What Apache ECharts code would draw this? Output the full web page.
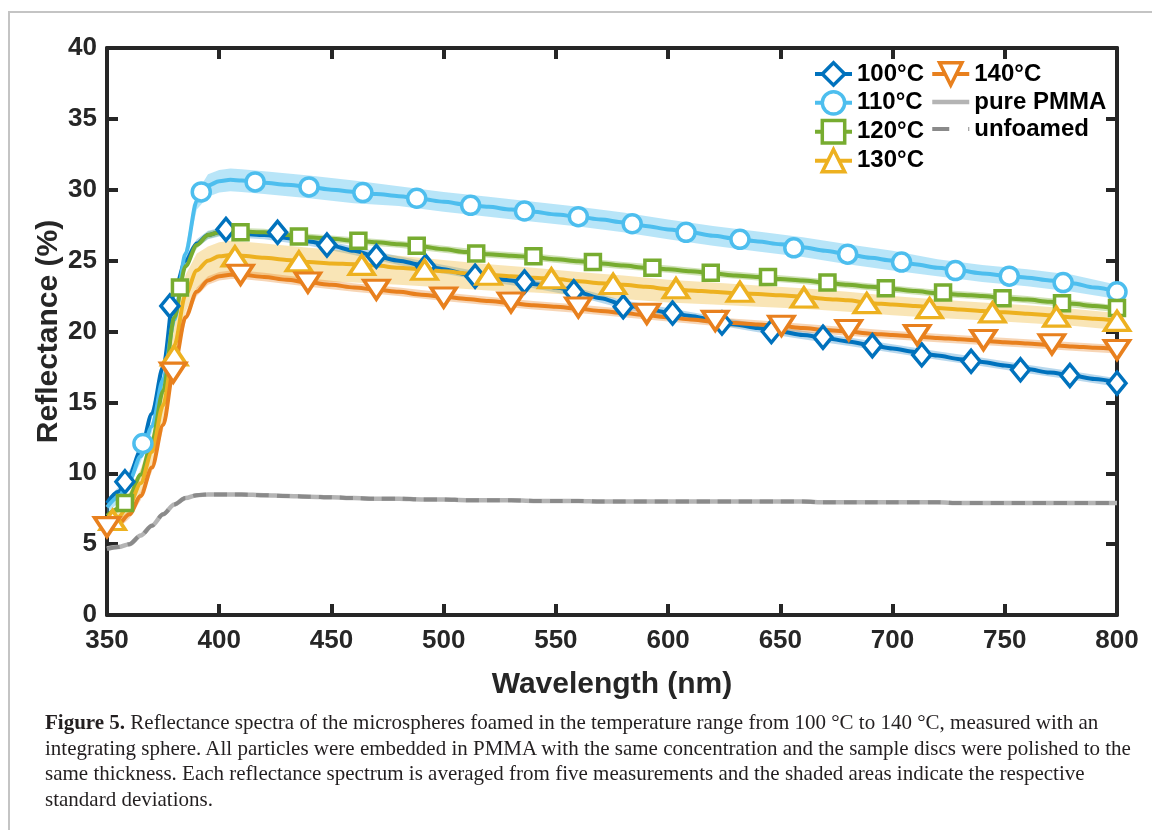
<!DOCTYPE html>
<html>
<head>
<meta charset="utf-8">
<script src="https://cdn.jsdelivr.net/npm/echarts@6/dist/echarts.min.js"></script>
<style>
html,body{margin:0;padding:0;background:#fff;}
#wrap{position:relative;width:1152px;height:830px;overflow:hidden;background:#fff;}
#chart{position:absolute;left:0;top:0;width:1152px;height:830px;}
#frame{position:absolute;left:8px;top:11px;width:1200px;height:900px;border-left:2px solid #c4c4c4;border-top:2px solid #c4c4c4;pointer-events:none;}
#caption{position:absolute;left:45px;top:710px;font-family:'Liberation Serif','Times New Roman',serif;font-size:21px;line-height:25.7px;color:#231f20;white-space:nowrap;}
#caption b{font-weight:bold;}
</style>
</head>
<body>
<div id="wrap">
<div id="chart"></div>
<div id="frame"></div>
<div id="caption">
<div><b>Figure 5.</b> Reflectance spectra of the microspheres foamed in the temperature range from 100 °C to 140 °C, measured with an</div>
<div>integrating sphere. All particles were embedded in PMMA with the same concentration and the sample discs were polished to the</div>
<div>same thickness. Each reflectance spectrum is averaged from five measurements and the shaded areas indicate the respective</div>
<div>standard deviations.</div>
</div>
</div>
<script>
// ---------- DATA ----------
const seriesNames = ['100°C', '110°C', '120°C', '130°C', '140°C', 'pure PMMA', 'unfoamed'];
const xTicks = [350, 400, 450, 500, 550, 600, 650, 700, 750, 800];
const yTicks = [0, 5, 10, 15, 20, 25, 30, 35, 40];

// wavelength grid of the curves (nm)
const wl = [350,355,360,365,370,375,380,385,390,395,400,405,410,420,430,440,450,460,470,480,490,500,510,520,530,540,550,560,570,580,590,600,610,620,630,640,650,660,670,680,690,700,710,720,730,740,750,760,770,780,790,800];

const r100 = [7.9,8.7,9.9,11.6,14.2,17.5,22.8,25.0,26.2,26.8,27.0,27.0,26.9,26.8,26.6,26.35,26.05,25.7,25.3,25.0,24.7,24.4,24.05,23.8,23.6,23.35,23.1,22.75,22.35,21.9,21.6,21.35,21.1,20.8,20.5,20.25,20.0,19.75,19.55,19.3,19.05,18.8,18.55,18.3,18.05,17.85,17.6,17.35,17.1,16.9,16.65,16.4];
const r110 = [7.6,8.3,9.5,11.2,13.3,16.6,20.8,25.5,29.2,30.3,30.6,30.7,30.65,30.5,30.35,30.2,30.0,29.85,29.7,29.55,29.35,29.15,28.95,28.8,28.6,28.45,28.25,28.1,27.9,27.7,27.45,27.2,27.0,26.75,26.55,26.35,26.15,25.95,25.7,25.45,25.2,25.0,24.75,24.5,24.3,24.1,23.95,23.8,23.6,23.4,23.1,22.8];
const r120 = [7.0,7.5,8.4,9.9,12.2,15.8,21.0,24.6,26.1,26.8,27.0,27.1,27.05,27.0,26.8,26.65,26.55,26.4,26.3,26.15,26.0,25.8,25.6,25.45,25.35,25.25,25.1,24.95,24.8,24.65,24.5,24.4,24.25,24.1,23.95,23.85,23.7,23.6,23.45,23.3,23.15,23.0,22.85,22.7,22.6,22.5,22.35,22.25,22.1,21.95,21.8,21.6];
const r130 = [6.4,6.9,7.8,9.3,11.5,14.8,19.0,22.6,24.3,25.0,25.3,25.4,25.35,25.2,25.05,24.9,24.8,24.75,24.65,24.5,24.4,24.25,24.1,24.0,23.9,23.8,23.7,23.55,23.4,23.3,23.15,23.0,22.9,22.8,22.7,22.65,22.55,22.45,22.3,22.2,22.0,21.9,21.8,21.65,21.55,21.45,21.35,21.25,21.15,21.0,20.9,20.75];
const r140 = [6.0,6.4,7.1,8.4,10.4,13.4,17.6,21.0,22.8,23.6,23.9,24.0,24.0,23.85,23.65,23.45,23.3,23.1,22.95,22.8,22.6,22.45,22.3,22.15,22.0,21.85,21.75,21.6,21.45,21.3,21.15,21.0,20.85,20.7,20.6,20.5,20.4,20.25,20.1,20.0,19.85,19.75,19.65,19.55,19.45,19.35,19.25,19.15,19.05,18.95,18.85,18.75];
const rPMMA = [4.7,4.8,5.0,5.6,6.3,7.1,7.8,8.25,8.45,8.5,8.5,8.5,8.5,8.45,8.4,8.35,8.3,8.25,8.2,8.2,8.15,8.15,8.1,8.1,8.1,8.05,8.05,8.05,8.0,8.0,8.0,8.0,8.0,8.0,8.0,8.0,8.0,8.0,7.95,7.95,7.95,7.95,7.95,7.95,7.9,7.9,7.9,7.9,7.9,7.9,7.9,7.9];
const rUnfoamed = [4.65,4.8,5.0,5.6,6.3,7.1,7.8,8.25,8.45,8.5,8.5,8.5,8.5,8.45,8.4,8.35,8.3,8.25,8.2,8.2,8.15,8.15,8.1,8.1,8.1,8.05,8.05,8.05,8.0,8.0,8.0,8.0,8.0,8.0,8.0,8.0,8.0,8.0,7.95,7.95,7.95,7.95,7.95,7.95,7.9,7.9,7.9,7.9,7.9,7.9,7.9,7.9];

// standard-deviation bands (lower / upper edges)
const bandX = [350,355,360,365,370,375,380,385,390,395,400,405,410,420,440,460,480,500,520,540,560,580,600,620,640,660,680,700,720,740,760,780,800];
const b100lo = [7.6,8.4,9.6,11.3,13.9,17.2,22.5,24.7,25.9,26.5,26.7,26.7,26.6,26.5,26.05,25.4,24.7,24.1,23.5,23.05,22.45,21.6,21.05,20.5,19.95,19.45,19.0,18.5,18.0,17.55,17.05,16.6,16.1];
const b100hi = [8.2,9.0,10.2,11.9,14.5,17.8,23.1,25.3,26.5,27.1,27.3,27.3,27.2,27.1,26.65,26.0,25.3,24.7,24.1,23.65,23.05,22.2,21.65,21.1,20.55,20.05,19.6,19.1,18.6,18.15,17.65,17.2,16.7];
const b110lo = [7.2,7.9,9.1,10.8,12.9,16.2,20.4,25.1,28.6,29.5,29.8,29.9,29.85,29.7,29.4,29.05,28.85,28.45,28.1,27.75,27.4,27.0,26.5,26.05,25.65,25.25,24.75,24.3,23.9,23.5,23.2,22.8,22.3];
const b110hi = [8.0,8.7,9.9,11.6,13.7,17.0,21.2,25.9,29.8,31.1,31.4,31.5,31.45,31.3,31.0,30.65,30.25,29.85,29.5,29.15,28.8,28.4,27.9,27.45,27.05,26.65,26.15,25.7,25.1,24.7,24.4,24.0,23.3];
const b120lo = [6.75,7.25,8.15,9.65,11.95,15.55,20.75,24.35,25.85,26.55,26.75,26.85,26.8,26.75,26.4,26.15,25.9,25.55,25.2,25.0,24.7,24.4,24.15,23.85,23.6,23.35,23.05,22.75,22.45,22.25,22.0,21.7,21.35];
const b120hi = [7.25,7.75,8.65,10.15,12.45,16.05,21.25,24.85,26.35,27.05,27.25,27.35,27.3,27.25,26.9,26.65,26.4,26.05,25.7,25.5,25.2,24.9,24.65,24.35,24.1,23.85,23.55,23.25,22.95,22.75,22.5,22.2,21.85];
const b130lo = [6.0,6.4,7.2,8.6,10.7,13.8,17.8,21.4,23.0,23.7,23.9,24.0,23.95,23.8,23.55,23.45,23.3,23.1,22.9,22.75,22.55,22.3,22.05,21.9,21.75,21.6,21.4,21.15,20.95,20.8,20.6,20.4,20.1];
const b130hi = [6.9,7.5,8.6,10.3,12.7,16.2,20.5,24.0,25.5,26.0,26.3,26.4,26.35,26.2,25.9,25.65,25.35,25.05,24.75,24.5,24.2,23.95,23.65,23.45,23.25,23.05,22.8,22.5,22.25,22.05,21.85,21.6,21.3];
const b140lo = [5.7,6.1,6.8,8.1,10.1,13.1,17.3,20.7,22.5,23.3,23.6,23.7,23.7,23.55,23.15,22.8,22.5,22.15,21.85,21.55,21.3,21.0,20.7,20.4,20.2,19.95,19.7,19.45,19.25,19.05,18.85,18.65,18.45];
const b140hi = [6.3,6.7,7.4,8.7,10.7,13.7,17.9,21.3,23.1,23.9,24.2,24.3,24.3,24.15,23.75,23.4,23.1,22.75,22.45,22.15,21.9,21.6,21.3,21.0,20.8,20.55,20.3,20.05,19.85,19.65,19.45,19.25,19.05];

// marker positions
const m100x = [358,378,403,426,448,470,492,514,536,558,580,602,624,646,669,691,713,735,757,779,800];
const m100y = [9.4,21.8,27.2,27.0,26.1,25.3,24.6,23.9,23.5,22.8,21.75,21.3,20.6,20.0,19.6,19.0,18.35,17.9,17.3,16.9,16.35];
const m110x = [366,392,416,440,464,488,512,536,560,584,608,632,656,680,704,728,752,776,800];
const m110y = [12.1,29.85,30.55,30.2,29.8,29.4,28.9,28.5,28.1,27.6,27.0,26.5,25.9,25.45,24.9,24.3,23.9,23.45,22.8];
const m120x = [358,382.5,409.5,435.5,462,488,514.5,540,566.5,593,619,644.5,671,697,722.5,749,775.5,800];
const m120y = [7.9,23.1,27.0,26.7,26.4,26.05,25.5,25.3,24.9,24.5,24.15,23.85,23.45,23.05,22.75,22.35,22.0,21.65];
const m130x = [352.5,380,407,435.5,463.5,491.5,520,548,575.5,603.5,632,660.5,688.5,716.5,744.5,773,800];
const m130y = [6.7,18.3,25.3,24.95,24.7,24.35,24.0,23.75,23.35,23.05,22.8,22.4,22.0,21.65,21.35,21.05,20.75];
const m140x = [350,379.5,409.5,439.5,470,500,530,560,590.5,621,650.5,680.5,711,740.5,771,800];
const m140y = [6.2,17.1,24.0,23.45,22.95,22.4,22.05,21.7,21.25,20.75,20.4,20.1,19.75,19.4,19.1,18.7];

// ---------- STYLE ----------
const colors = ['#0072BD', '#4DBEEE', '#77AC30', '#EDB120', '#E8801E', '#B4B4B4', '#8A8A8A'];
const bandColors = ['rgba(0,114,189,0.28)', 'rgba(77,190,238,0.40)', 'rgba(119,172,48,0.35)', 'rgba(237,177,32,0.33)', 'rgba(232,128,30,0.33)'];
const symbols = ['diamond', 'circle', 'rect', 'triangle', 'triangle'];
const symbolSizes = [[18, 22], 18, 15, [25, 19], [25, 19]];
const symbolRotates = [0, 0, 0, 0, 180];
const FONT = "'Liberation Sans', Arial, Helvetica, sans-serif";

const curves = [r100, r110, r120, r130, r140];
const bands = [[b100lo, b100hi], [b110lo, b110hi], [b120lo, b120hi], [b130lo, b130hi], [b140lo, b140hi]];
const markers = [[m100x, m100y], [m110x, m110y], [m120x, m120y], [m130x, m130y], [m140x, m140y]];

function pairs(xs, ys) { return xs.map((x, i) => [x, ys[i]]); }

const series = [];
// bands first
bands.forEach((b, k) => {
  series.push({
    type: 'custom',
    silent: true,
    clip: true,
    data: [[bandX[0], b[0][0]]],
    encode: { x: 0, y: 1 },
    renderItem: function (params, api) {
      const pts = [];
      for (let i = 0; i < bandX.length; i++) pts.push(api.coord([bandX[i], b[1][i]]));
      for (let i = bandX.length - 1; i >= 0; i--) pts.push(api.coord([bandX[i], b[0][i]]));
      return { type: 'polygon', shape: { points: pts }, style: { fill: bandColors[k], stroke: null } };
    },
    z: 1
  });
});
// gray reference curves
series.push({
  name: 'pure PMMA', type: 'line', data: pairs(wl, rPMMA), symbol: 'none', smooth: 0.3, smoothMonotone: 'x',
  lineStyle: { color: colors[5], width: 4.5 }, itemStyle: { color: colors[5] }, silent: true, z: 2
});
series.push({
  name: 'unfoamed', type: 'line', data: pairs(wl, rUnfoamed), symbol: 'none', smooth: 0.3, smoothMonotone: 'x',
  lineStyle: { color: colors[6], width: 4, type: [13, 8] }, itemStyle: { color: colors[6] }, silent: true, z: 2
});
// foamed samples
curves.forEach((c, k) => {
  series.push({
    name: seriesNames[k], type: 'line', data: pairs(wl, c), smooth: 0.3, smoothMonotone: 'x',
    symbol: symbols[k], symbolRotate: symbolRotates[k], showSymbol: false,
    lineStyle: { color: colors[k], width: 4 },
    itemStyle: { color: '#fff', borderColor: colors[k], borderWidth: 3.5 },
    silent: true, z: 3
  });
  series.push({
    name: seriesNames[k], type: 'scatter', data: pairs(markers[k][0], markers[k][1]),
    symbol: symbols[k], symbolSize: symbolSizes[k], symbolRotate: symbolRotates[k],
    itemStyle: { color: '#fff', borderColor: colors[k], borderWidth: 3.5, opacity: 1 },
    silent: true, z: 3, clip: false
  });
});

function legendItem(k) {
  return {
    name: seriesNames[k],
    itemStyle: { color: '#fff', borderColor: colors[k], borderWidth: 3.5 },
    lineStyle: { color: colors[k], width: 4 }
  };
}
const legendText = { fontFamily: FONT, fontWeight: 'bold', fontSize: 24, color: '#000' };

const axisLineStyle = { color: '#262626', width: 4 };
const option = {
  animation: false,
  backgroundColor: '#fff',
  grid: { left: 107, right: 35, top: 48, bottom: 215, containLabel: false },
  xAxis: [{
    type: 'value', min: xTicks[0], max: xTicks[xTicks.length - 1], interval: 50,
    position: 'bottom',
    axisLine: { show: true, onZero: false, lineStyle: axisLineStyle },
    axisTick: { show: true, inside: true, length: 11, lineStyle: axisLineStyle },
    axisLabel: { show: true, margin: 13, fontFamily: FONT, fontWeight: 'bold', fontSize: 26, color: '#262626' },
    splitLine: { show: false },
    name: 'Wavelength (nm)', nameLocation: 'middle', nameGap: 55,
    nameTextStyle: { fontFamily: FONT, fontWeight: 'bold', fontSize: 30, color: '#262626' }
  }, {
    type: 'value', min: xTicks[0], max: xTicks[xTicks.length - 1], interval: 50,
    position: 'top',
    axisLine: { show: true, onZero: false, lineStyle: axisLineStyle },
    axisTick: { show: true, inside: true, length: 11, lineStyle: axisLineStyle },
    axisLabel: { show: false }, splitLine: { show: false }
  }],
  yAxis: [{
    type: 'value', min: yTicks[0], max: yTicks[yTicks.length - 1], interval: 5,
    position: 'left',
    axisLine: { show: true, onZero: false, lineStyle: axisLineStyle },
    axisTick: { show: true, inside: true, length: 11, lineStyle: axisLineStyle },
    axisLabel: { show: true, margin: 10, fontFamily: FONT, fontWeight: 'bold', fontSize: 26, color: '#262626' },
    splitLine: { show: false },
    name: 'Reflectance (%)', nameLocation: 'middle', nameGap: 43, nameRotate: 90, nameMoveOverlap: false,
    nameTextStyle: { fontFamily: FONT, fontWeight: 'bold', fontSize: 30, color: '#262626' }
  }, {
    type: 'value', min: yTicks[0], max: yTicks[yTicks.length - 1], interval: 5,
    position: 'right',
    axisLine: { show: true, onZero: false, lineStyle: axisLineStyle },
    axisTick: { show: true, inside: true, length: 11, lineStyle: axisLineStyle },
    axisLabel: { show: false }, splitLine: { show: false }
  }],
  legend: [{
    data: [legendItem(0), legendItem(1), legendItem(2), legendItem(3)],
    orient: 'vertical', left: 813, top: 61, itemWidth: 37, itemHeight: 28, itemGap: 3,
    selectedMode: false, textStyle: legendText, padding: 0
  }, {
    data: [
      legendItem(4),
      { name: 'pure PMMA', itemStyle: { opacity: 0 }, lineStyle: { color: colors[5], width: 4.5 } },
      { name: 'unfoamed', itemStyle: { opacity: 0 }, lineStyle: { color: colors[6], width: 4, type: [17, 19] } }
    ],
    orient: 'vertical', left: 930, top: 61, itemWidth: 37, itemHeight: 28, itemGap: 3,
    selectedMode: false, textStyle: legendText, padding: 0
  }],
  series: series
};

const chart = echarts.init(document.getElementById('chart'), null, { renderer: 'canvas' });
chart.setOption(option);
</script>
</body>
</html>
